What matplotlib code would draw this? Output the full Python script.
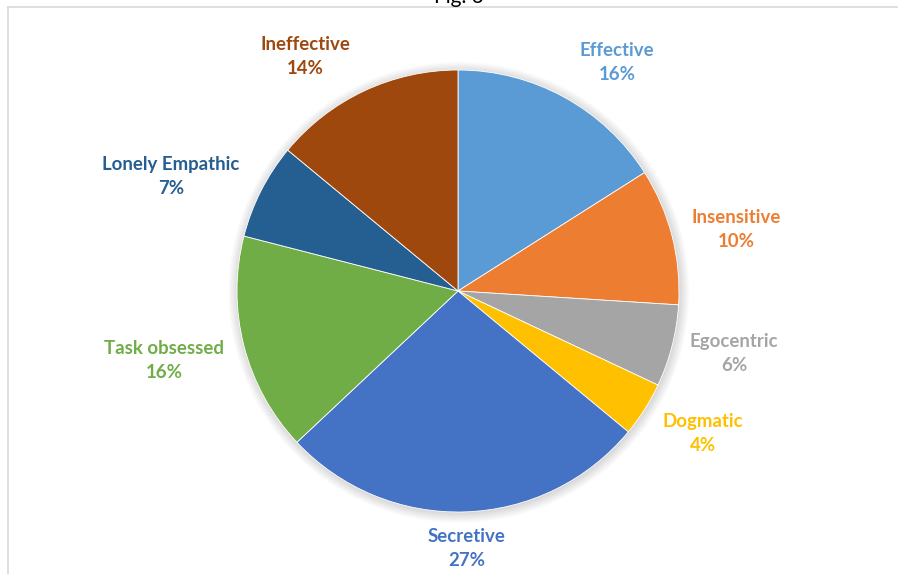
import matplotlib.pyplot as plt
import numpy as np

# share of each leadership style (%)
styles = ['Effective', 'Insensitive', 'Egocentric', 'Dogmatic',
          'Secretive', 'Task obsessed', 'Lonely Empathic', 'Ineffective']
shares = [16, 10, 6, 4, 27, 16, 7, 14]
colors = ['#5B9BD5', '#ED7D31', '#A5A5A5', '#FFC000',
          '#4472C4', '#70AD47', '#255E91', '#9E480E']

# where each label sits (radius units, relative to pie centre)
label_pos = [(0.72, 1.035), (1.26, 0.28), (1.25, -0.285), (1.11, -0.645),
             (0.04, -1.165), (-1.33, -0.315), (-1.30, 0.52), (-0.69, 1.063)]

W, H = 898, 574
cx, cy, R = 458, 291, 221

fig = plt.figure(figsize=(W / 100, H / 100), dpi=100)
ax = fig.add_axes([0, 0, 1, 1])

# soft shadow round the pie
for i in range(8):
    ax.add_patch(plt.Circle((0.004, -0.006), 1.0 + i * 0.006,
                            color='black', alpha=0.018, lw=0, zorder=0))

ax.pie(shares, colors=colors, startangle=90, counterclock=False, radius=1.0,
       wedgeprops=dict(edgecolor='white', linewidth=0.6), center=(0, 0),
       frame=True)
ax.set_xlim(-cx / R, (W - cx) / R)
ax.set_ylim(-(H - cy) / R, cy / R)
ax.set_aspect('equal')
ax.axis('off')

for name, val, col, (lx, ly) in zip(styles, shares, colors, label_pos):
    ax.text(lx, ly, f'{name}\n{val}%', color=col, ha='center', va='center',
            fontsize=13.4, fontweight='bold', family='Lato', linespacing=1.5)

# chart border and clipped title
fig.add_artist(plt.Line2D([8 / W, 1], [1 - 7 / H, 1 - 7 / H],
                          transform=fig.transFigure, color='#D9D9D9', lw=1.2))
fig.add_artist(plt.Line2D([8 / W, 8 / W], [0, 1 - 7 / H],
                          transform=fig.transFigure, color='#D9D9D9', lw=1.2))
fig.text(459 / W, 1 - 3 / H, 'Fig. 3', ha='center', va='baseline',
         fontsize=15, family='Lato', color='black')

fig.savefig('out.png', dpi=100)
